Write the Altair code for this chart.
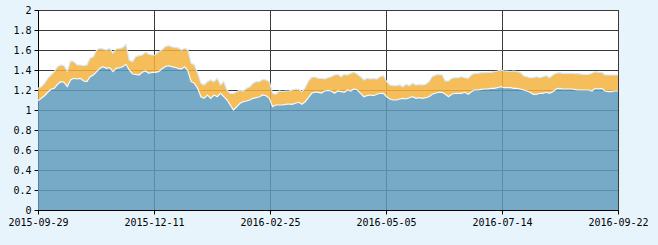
import json
import altair as alt
import pandas as pd

# lower (blue) series, read left to right
blue = [
    1.093, 1.117, 1.143, 1.177, 1.207, 1.217, 1.257, 1.283, 1.277, 1.233,
    1.300, 1.317, 1.310, 1.317, 1.290, 1.283, 1.333, 1.350, 1.383, 1.417,
    1.433, 1.417, 1.423, 1.383, 1.417, 1.423, 1.433, 1.457, 1.400, 1.360,
    1.357, 1.350, 1.377, 1.390, 1.367, 1.377, 1.377, 1.383, 1.410, 1.433,
    1.443, 1.433, 1.427, 1.417, 1.410, 1.433, 1.390, 1.283, 1.267, 1.217,
    1.133, 1.117, 1.150, 1.117, 1.150, 1.133, 1.167, 1.133, 1.100, 1.050,
    1.000, 1.033, 1.067, 1.083, 1.090, 1.100, 1.117, 1.123, 1.133, 1.150,
    1.143, 1.117, 1.033, 1.050, 1.050, 1.050, 1.057, 1.060, 1.057, 1.067,
    1.077, 1.057, 1.083, 1.123, 1.167, 1.180, 1.177, 1.170, 1.190, 1.197,
    1.190, 1.167, 1.190, 1.183, 1.177, 1.200, 1.190, 1.210, 1.200, 1.167,
    1.133, 1.143, 1.150, 1.143, 1.157, 1.167, 1.167, 1.133, 1.110, 1.100,
    1.100, 1.110, 1.117, 1.110, 1.123, 1.133, 1.117, 1.123, 1.117, 1.123,
    1.133, 1.157, 1.167, 1.177, 1.177, 1.157, 1.133, 1.157, 1.167, 1.167,
    1.167, 1.177, 1.157, 1.183, 1.200, 1.200, 1.207, 1.210, 1.210, 1.217,
    1.217, 1.223, 1.233, 1.223, 1.223, 1.223, 1.217, 1.217, 1.210, 1.200,
    1.190, 1.177, 1.157, 1.157, 1.167, 1.167, 1.177, 1.167, 1.183, 1.210,
    1.217, 1.210, 1.210, 1.210, 1.210, 1.203, 1.200, 1.200, 1.200, 1.200,
    1.190, 1.217, 1.210, 1.217, 1.190, 1.183, 1.183, 1.190, 1.190,
]

# top of the stacked (orange) series, read left to right
top = [
    1.217, 1.233, 1.267, 1.317, 1.350, 1.383, 1.433, 1.450, 1.443, 1.390,
    1.490, 1.483, 1.450, 1.450, 1.443, 1.450, 1.517, 1.533, 1.600, 1.617,
    1.610, 1.600, 1.617, 1.567, 1.610, 1.617, 1.623, 1.657, 1.500, 1.483,
    1.533, 1.543, 1.550, 1.577, 1.557, 1.550, 1.550, 1.583, 1.600, 1.633,
    1.643, 1.633, 1.623, 1.623, 1.600, 1.617, 1.600, 1.467, 1.450, 1.367,
    1.267, 1.250, 1.283, 1.300, 1.283, 1.317, 1.250, 1.283, 1.200, 1.167,
    1.167, 1.183, 1.200, 1.190, 1.217, 1.233, 1.267, 1.283, 1.283, 1.307,
    1.300, 1.283, 1.167, 1.157, 1.190, 1.183, 1.190, 1.190, 1.200, 1.210,
    1.207, 1.183, 1.223, 1.290, 1.327, 1.330, 1.317, 1.317, 1.310, 1.323,
    1.333, 1.350, 1.357, 1.333, 1.357, 1.350, 1.367, 1.377, 1.357, 1.333,
    1.300, 1.317, 1.310, 1.317, 1.310, 1.333, 1.343, 1.283, 1.250, 1.243,
    1.243, 1.250, 1.233, 1.257, 1.243, 1.267, 1.250, 1.257, 1.250, 1.257,
    1.283, 1.333, 1.350, 1.357, 1.350, 1.290, 1.290, 1.317, 1.323, 1.323,
    1.333, 1.323, 1.317, 1.350, 1.367, 1.367, 1.373, 1.373, 1.377, 1.377,
    1.383, 1.390, 1.400, 1.390, 1.390, 1.383, 1.390, 1.383, 1.377, 1.343,
    1.333, 1.323, 1.323, 1.333, 1.323, 1.333, 1.343, 1.323, 1.350, 1.367,
    1.373, 1.367, 1.367, 1.367, 1.367, 1.363, 1.363, 1.357, 1.357, 1.357,
    1.367, 1.383, 1.377, 1.377, 1.350, 1.350, 1.350, 1.350, 1.350,
]

tick_labels = ["2015-09-29", "2015-12-11", "2016-02-25",
               "2016-05-05", "2016-07-14", "2016-09-22"]
y_ticks = [0, 0.2, 0.4, 0.6, 0.8, 1.0, 1.2, 1.4, 1.6, 1.8, 2.0]

n = len(blue)
df = pd.DataFrame({"k": list(range(n)), "blue": blue, "top": top})

step = (n - 1) / (len(tick_labels) - 1)
tick_vals = [i * step for i in range(len(tick_labels))]
label_expr = f"{json.dumps(tick_labels)}[round(datum.value / {step})]"

FONT = "DejaVu Sans Mono"

x_axis = alt.Axis(values=tick_vals, labelExpr=label_expr, title=None,
                  grid=True, labelFlush=False, labelOverlap=False,
                  labelFont=FONT, labelFontSize=10, labelColor="#000000",
                  labelPadding=3, tickSize=4, tickColor="#000000",
                  domainColor="#000000", gridColor="#3a3a3a")
y_axis = alt.Axis(values=y_ticks, format=".1~f", title=None, grid=True,
                  labelFont=FONT, labelFontSize=10, labelColor="#000000",
                  labelPadding=3, tickSize=4, tickColor="#000000",
                  domainColor="#000000", gridColor="#3a3a3a")

x_scale = alt.Scale(domain=[0, n - 1], nice=False, zero=False)
y_scale = alt.Scale(domain=[0, 2], nice=False)

X = alt.X("k:Q", scale=x_scale, axis=x_axis)

orange_area = alt.Chart(df).mark_area(color="#F3B33D", opacity=0.85).encode(
    x=X,
    y=alt.Y("top:Q", scale=y_scale, axis=y_axis),
    y2="blue:Q",
)
blue_area = alt.Chart(df).mark_area(color="#5E9BBD", opacity=0.85).encode(
    x=X,
    y=alt.Y("blue:Q", scale=y_scale, axis=y_axis),
)
orange_line = alt.Chart(df).mark_line(color="#d6e9f7", strokeWidth=1.2).encode(
    x=X,
    y=alt.Y("top:Q", scale=y_scale, axis=y_axis),
)
blue_line = alt.Chart(df).mark_line(color="#ffffff", strokeWidth=1.2, opacity=0.9).encode(
    x=X,
    y=alt.Y("blue:Q", scale=y_scale, axis=y_axis),
)

chart = alt.layer(orange_area, blue_area, orange_line, blue_line).properties(
    width=580,
    height=200,
    autosize=alt.AutoSizeParams(type="none"),
    padding={"left": 38, "top": 10, "right": 40, "bottom": 35},
    background="#E8F4FC",
).configure_view(
    stroke="#000000",
    strokeWidth=1,
    fill="#ffffff",
)

chart.save("out.html", embed_options={"renderer": "svg", "actions": False})
